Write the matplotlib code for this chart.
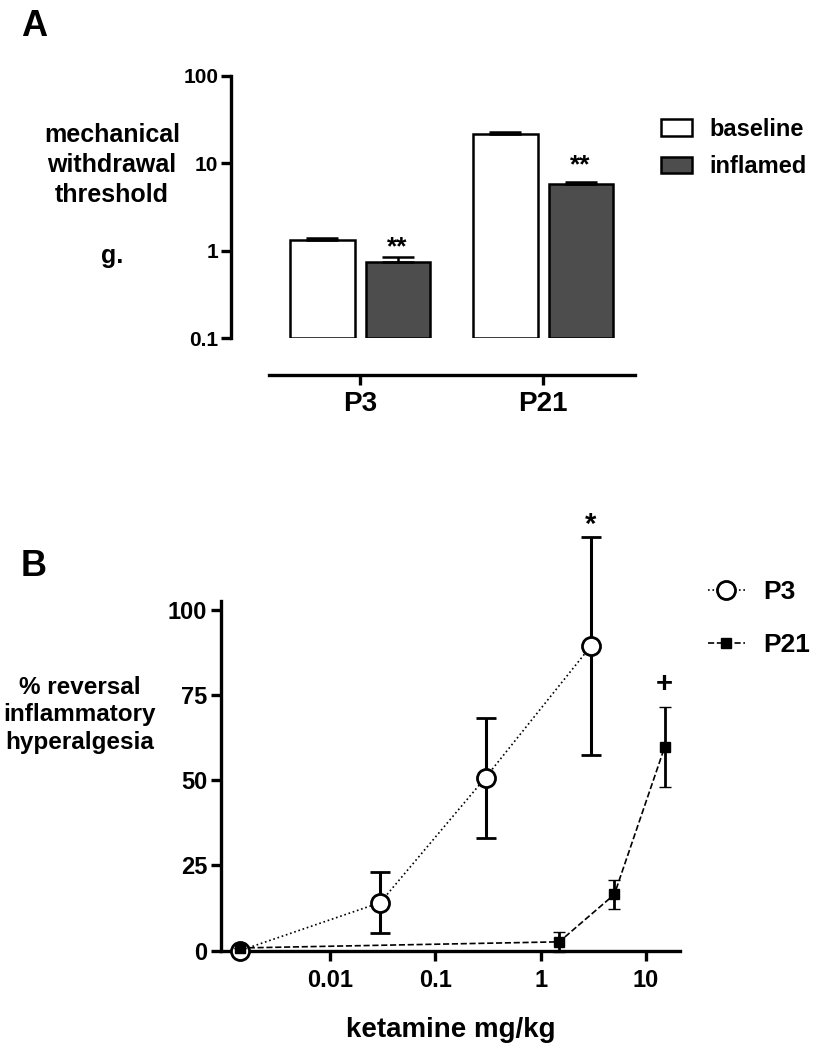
import matplotlib
matplotlib.use("Agg")
import matplotlib.pyplot as plt
import numpy as np
from matplotlib.lines import Line2D

plt.rcParams['font.family'] = ['Liberation Sans', 'DejaVu Sans']
plt.rcParams['font.weight'] = 'bold'

# ---- panel A: withdrawal threshold (g), log scale
ages = ['P3', 'P21']
baseline = [1.34, 21.6]
baseline_err = [0.08, 1.1]
inflamed = [0.74, 5.8]
inflamed_err = [0.10, 0.3]
stars_a = ['**', '**']

# ---- panel B: % reversal vs ketamine dose
p3_dose = [0.0014, 0.03, 0.3, 3]
p3_mean = [0, 14.1, 50.8, 89.4]
p3_sem = [0, 9.0, 17.6, 32.0]
p21_dose = [0.0014, 1.5, 5, 15]
p21_mean = [0.8, 2.6, 16.5, 59.7]
p21_sem = [0, 3.0, 4.2, 11.7]

W, H = 829, 1050
fig = plt.figure(figsize=(W / 100, H / 100), dpi=100)


def box(l, t, r, b):
    # pixel box -> figure fraction
    return [l / W, 1 - b / H, (r - l) / W, (b - t) / H]


LW = 2.4

############## panel A
axA = fig.add_axes(box(231, 76, 640, 338.3))
x = np.arange(len(ages))
bw = 0.35
off = 0.205
axA.set_yscale('log')
axA.bar(x - off, np.array(baseline) - 0.1, bottom=0.1, width=bw, color='white',
        edgecolor='black', linewidth=1.8, label='baseline', zorder=2)
axA.bar(x + off, np.array(inflamed) - 0.1, bottom=0.1, width=bw, color='#4d4d4d',
        edgecolor='black', linewidth=1.8, label='inflamed', zorder=2)
axA.errorbar(x - off, baseline, yerr=[np.zeros(2), baseline_err], fmt='none',
             ecolor='black', elinewidth=1.8, capsize=11.5, capthick=1.8, zorder=3)
axA.errorbar(x + off, inflamed, yerr=[np.zeros(2), inflamed_err], fmt='none',
             ecolor='black', elinewidth=1.8, capsize=11.5, capthick=1.8, zorder=3)
star_pad = [2, 7]
for i, s in enumerate(stars_a):
    axA.annotate(s, (x[i] + off, inflamed[i] + inflamed_err[i]), xytext=(0, star_pad[i]),
                 textcoords='offset points', ha='center', va='baseline',
                 fontsize=19, fontweight='bold')

axA.set_xlim(-0.705, 1.53)
axA.set_ylim(0.1, 100)
axA.set_yticks([0.1, 1, 10, 100])
axA.set_yticklabels(['0.1', '1', '10', '100'])
axA.yaxis.set_minor_locator(matplotlib.ticker.NullLocator())
axA.set_xticks(x)
axA.set_xticklabels(ages)
axA.tick_params(axis='y', labelsize=15, length=7, width=LW, direction='out', pad=2)
axA.tick_params(axis='x', labelsize=20, length=7, width=LW, direction='out', pad=4)
for s in ['top', 'right']:
    axA.spines[s].set_visible(False)
axA.spines['left'].set_linewidth(LW)
axA.spines['bottom'].set_linewidth(LW)
axA.spines['bottom'].set_position(('outward', 26.6))
axA.spines['bottom'].set_bounds(-0.5, 1.5)

axA.legend(loc='center left', bbox_to_anchor=(661 / W, 1 - 148 / H),
           bbox_transform=fig.transFigure, frameon=False, fontsize=17,
           handlelength=1.3, handleheight=0.7, handletextpad=0.75,
           labelspacing=0.6, borderpad=0, borderaxespad=0)

fig.text(34 / W, 1 - 27 / H, 'A', fontsize=26, fontweight='bold', ha='center', va='center')
fig.text(112 / W, 1 - 165 / H, 'mechanical\nwithdrawal\nthreshold', fontsize=18,
         fontweight='bold', ha='center', va='center', linespacing=1.3)
fig.text(112 / W, 1 - 256 / H, 'g.', fontsize=18, fontweight='bold', ha='center', va='center')

############## panel B
axB = fig.add_axes(box(221, 601, 680, 950.7))
axB.set_xscale('log')
axB.errorbar(p3_dose, p3_mean, yerr=p3_sem, fmt='o', linestyle=':', color='black',
             mfc='white', mec='black', ms=13, mew=2, lw=1.2, elinewidth=2.2,
             capsize=7.2, capthick=2.2, clip_on=False, zorder=3)
axB.errorbar(p21_dose, p21_mean, yerr=p21_sem, fmt='s', linestyle='--', color='black',
             mfc='black', mec='black', ms=7, mew=1, lw=1.2, elinewidth=2.0,
             capsize=4.5, capthick=2.0, clip_on=False, zorder=4)
axB.annotate('*', (p3_dose[-1], p3_mean[-1] + p3_sem[-1]), xytext=(0, 3),
             textcoords='offset points', ha='center', va='baseline',
             fontsize=21, fontweight='bold', annotation_clip=False)
axB.annotate('+', (p21_dose[-1], p21_mean[-1] + p21_sem[-1]), xytext=(0, 11),
             textcoords='offset points', ha='center', va='baseline',
             fontsize=21, fontweight='bold', annotation_clip=False)

axB.set_xlim(10 ** -3.033, 10 ** 1.322)
axB.set_ylim(0, 102.6)
axB.set_xticks([0.01, 0.1, 1, 10])
axB.set_xticklabels(['0.01', '0.1', '1', '10'])
axB.xaxis.set_minor_locator(matplotlib.ticker.NullLocator())
axB.set_yticks([0, 25, 50, 75, 100])
axB.tick_params(labelsize=17, length=7, width=LW, direction='out', pad=3)
axB.tick_params(axis='x', pad=6)
for s in ['top', 'right']:
    axB.spines[s].set_visible(False)
axB.spines['left'].set_linewidth(LW)
axB.spines['bottom'].set_linewidth(LW)
axB.set_xlabel('ketamine mg/kg', fontsize=20, fontweight='bold', labelpad=18)

handles = [Line2D([], [], color='black', linestyle=':', lw=1.2, marker='o', mfc='white',
                  mec='black', ms=13, mew=2),
           Line2D([], [], color='black', linestyle='--', lw=1.2, marker='s', mfc='black',
                  mec='black', ms=7)]
axB.legend(handles, ['P3', 'P21'], loc='center left',
           bbox_to_anchor=(708 / W, 1 - 618.5 / H), bbox_transform=fig.transFigure,
           frameon=False, fontsize=19, handlelength=1.4, handletextpad=0.7,
           labelspacing=1.1, borderpad=0, borderaxespad=0)

fig.text(34 / W, 1 - 567 / H, 'B', fontsize=26, fontweight='bold', ha='center', va='center')
fig.text(80 / W, 1 - 715 / H, '% reversal\ninflammatory\nhyperalgesia', fontsize=17.5,
         fontweight='bold', ha='center', va='center', linespacing=1.25)

fig.savefig('out.png', dpi=100)
